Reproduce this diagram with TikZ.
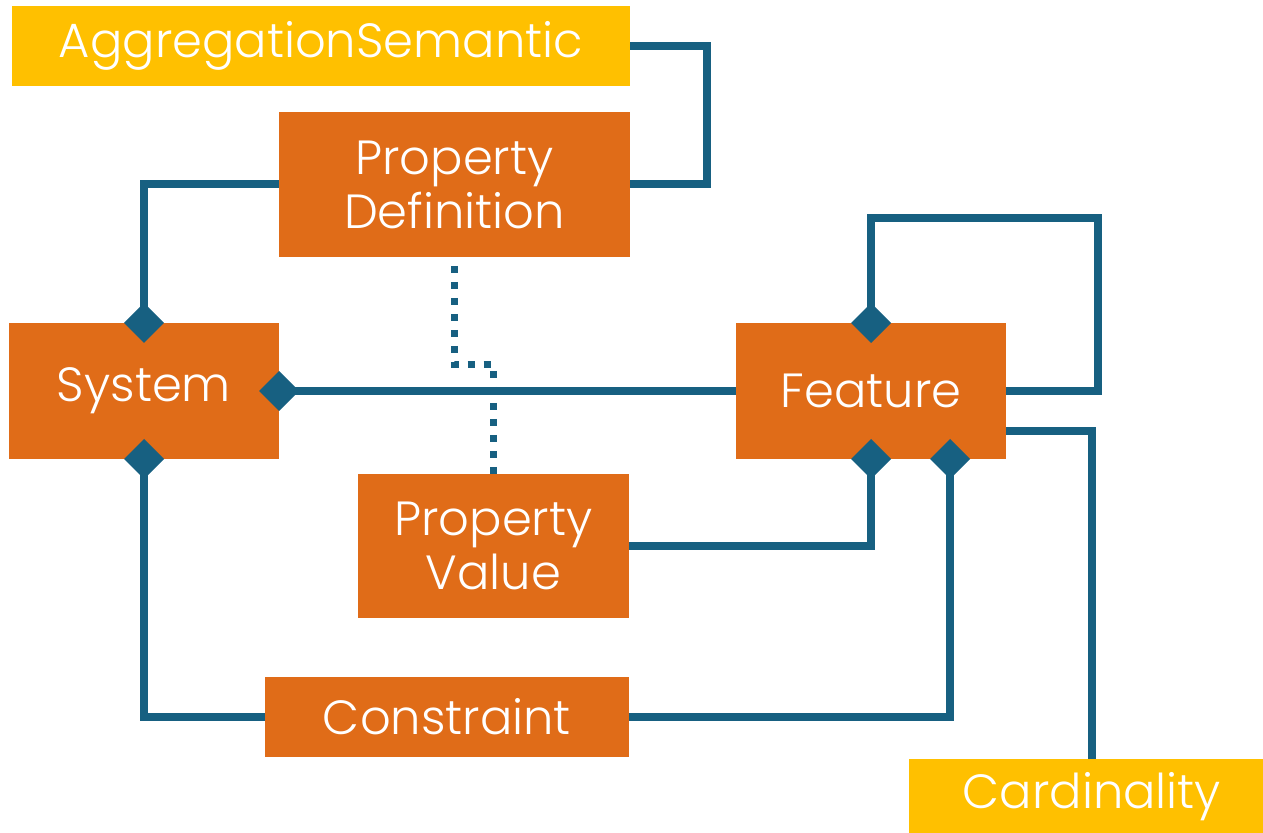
\documentclass[tikz,border=0pt]{standalone}
\usepackage{fontspec}
\setmainfont{Poppins Light}
\usetikzlibrary{arrows.meta,positioning,calc}
\definecolor{boxorange}{RGB}{224,108,24}
\definecolor{boxamber}{RGB}{255,192,0}
\definecolor{linkblue}{RGB}{23,96,129}

\begin{document}
\begin{tikzpicture}[
	x=0.5pt, y=-0.5pt,
	all node/.style={outer sep=0pt, inner sep=0pt, text=white, align=center,
		font=\fontsize{24}{27}\selectfont},
	class/.style={all node, fill=boxorange},
	note/.style={all node, fill=boxamber},
	link/.style={draw=linkblue, line width=4pt},
	agg/.style={link, {Diamond[length=20pt,width=20pt]}-, shorten <=-10pt},
	dotlink/.style={draw=linkblue, line width=3.5pt, dash pattern=on 3.5pt off 4.5pt, dash phase=3.5pt}
	]
		\useasboundingbox (0,0) rectangle (1263,833);

		\node[note, minimum width=309pt, minimum height=40pt]		(aggsem)		at	(321,46)		{AggregationSemantic};
		\node[class, minimum width=175.5pt, minimum height=72.5pt]	(propdef)		at	(454.5,184.5)	{Property\\Definition};
		\node[class, minimum width=135pt, minimum height=68pt]		(system)		at	(144,391)		{System};
		\node[class, minimum width=135pt, minimum height=68pt]		(feature)		at	(871,391)		{Feature};
		\node[class, minimum width=135.5pt, minimum height=72pt]	(propval)		at	(493.5,546)		{Property\\Value};
		\node[class, minimum width=182pt, minimum height=40pt]		(constraint)	at	(447,717)		{Constraint};
		\node[note, minimum width=177pt, minimum height=38pt]		(cardinality)	at	(1086,797)		{\hspace{6pt}Cardinality};

		\draw[link] (aggsem.east) -- ++(77,0) |- (propdef.east);
		\draw[agg] (system.north) |- (propdef.west);
		\draw[agg] (system.east) -- (feature.west);
		\draw[agg] (system.south) |- (constraint.west);
		\draw[dotlink] (propdef.south) -- ++(0,108) -| (propval.north);

		\draw[agg] (feature.north) |- ++(227,-105) |- (feature.east);
		\draw[agg] (feature.south) |- (propval.east);
		\draw[agg] ([xshift=39.5pt]feature.south) |- (constraint.east);
		\draw[link] ([yshift=-20pt]feature.east) -| ([xshift=3pt]cardinality.north);
	\end{tikzpicture}
\end{document}
